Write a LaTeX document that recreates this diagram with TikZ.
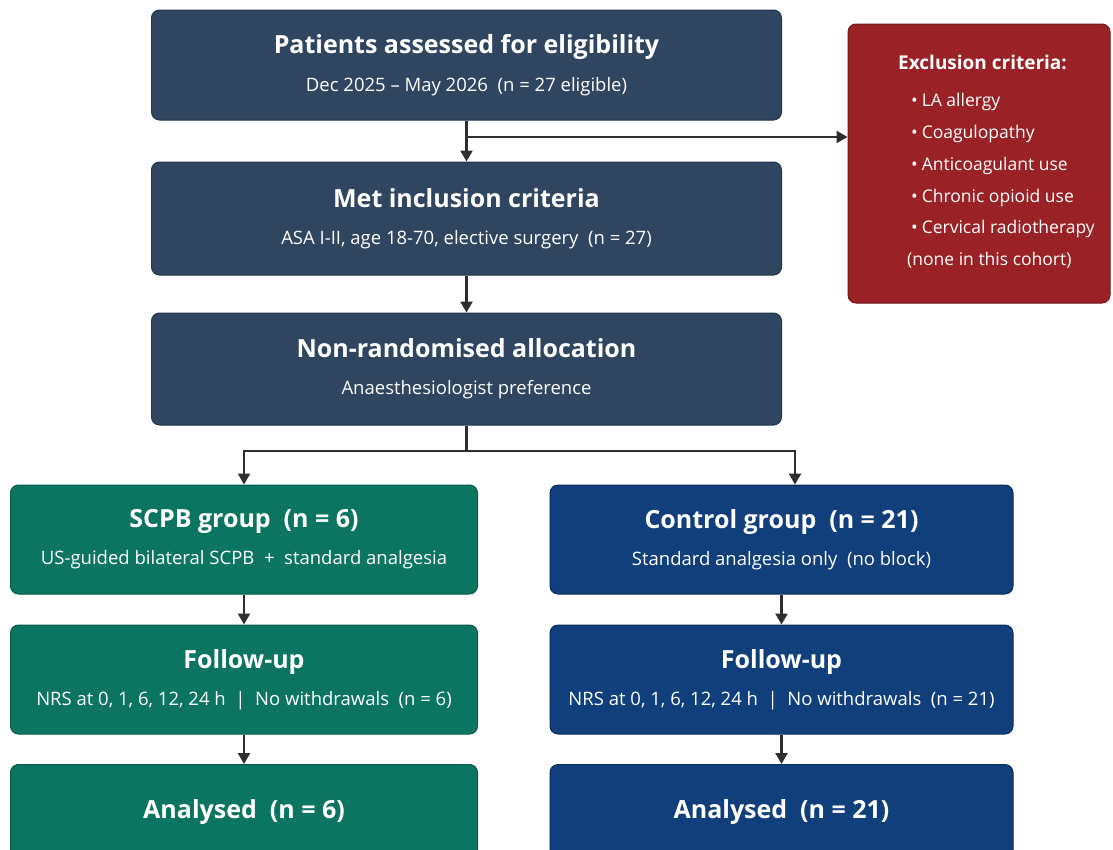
\documentclass[tikz,border=0pt]{standalone}
\usepackage{fontspec}
\setmainfont{Open Sans}
\usetikzlibrary{arrows.meta}
\definecolor{slate}{HTML}{30455F}
\definecolor{slateedge}{HTML}{23364C}
\definecolor{grn}{HTML}{0C7562}
\definecolor{grnedge}{HTML}{08594A}
\definecolor{blu}{HTML}{103F7C}
\definecolor{bluedge}{HTML}{0A2E5E}
\definecolor{redbox}{HTML}{9A2226}
\definecolor{rededge}{HTML}{701519}
\definecolor{arrowc}{HTML}{2E2E2E}
\newcommand{\ttl}[1]{{\fontsize{25}{37}\selectfont\bfseries #1}}
\newcommand{\sbt}[1]{{\fontsize{18.5}{37}\selectfont #1}}
\tikzset{
  box/.style={draw, line width=1pt, rounded corners=8pt, text=white, align=center,
    font=\fontsize{18.5}{37}\selectfont, inner sep=0pt},
  slatebox/.style={box, fill=slate, draw=slateedge, minimum width=630pt},
  grnbox/.style={box, fill=grn, draw=grnedge, minimum width=467pt},
  blubox/.style={box, fill=blu, draw=bluedge, minimum width=463pt},
  conn/.style={draw=arrowc, line width=2.4pt, -{Triangle[length=11pt,width=12pt]}},
  plainline/.style={draw=arrowc, line width=2.4pt},
}
\begin{document}
\begin{tikzpicture}[x=1pt,y=-1pt]
\useasboundingbox (0,0) rectangle (1113,849);
% top column
\node[slatebox, minimum height=110pt] (elig) at (466.5,65) {\ttl{Patients assessed for eligibility}\\[1pt]\sbt{Dec 2025 -- May 2026\ \ (n = 27 eligible)}};
\node[slatebox, minimum height=113pt] (incl) at (466.5,218.5) {\ttl{Met inclusion criteria}\\\sbt{ASA I-II, age 18-70, elective surgery\ \ (n = 27)}};
\node[slatebox, minimum height=112pt] (alloc) at (466.5,369) {\ttl{Non-randomised allocation}\\\sbt{Anaesthesiologist preference}};
% exclusion
\node[box, fill=redbox, draw=rededge, minimum width=262pt, minimum height=279pt] (excl) at (979,163.5) {};
\node[anchor=west, text=white, align=left, inner sep=0pt, font=\fontsize{17.5}{31.8}\selectfont] (excltxt) at (898,162)
 {{\fontsize{19}{31.8}\selectfont\bfseries Exclusion criteria:}\\[5pt]
  \hspace*{13pt}•\hspace*{4pt}LA allergy\\
  \hspace*{13pt}•\hspace*{4pt}Coagulopathy\\
  \hspace*{13pt}•\hspace*{4pt}Anticoagulant use\\
  \hspace*{13pt}•\hspace*{4pt}Chronic opioid use\\
  \hspace*{13pt}•\hspace*{4pt}Cervical radiotherapy\\
  \hspace*{9pt}(none in this cohort)};
% groups
\node[grnbox, minimum height=109pt] (scpb) at (244,539.5) {\ttl{SCPB group\ \ (n = 6)}\\\sbt{US-guided bilateral SCPB\ \ +\ \ standard analgesia}};
\node[blubox, minimum height=109pt] (ctrl) at (781.5,539.5) {\ttl{Control group\ \ (n = 21)}\\\sbt{Standard analgesia only\ \ (no block)}};
\node[grnbox, minimum height=109pt] (fuA) at (244,679.5) {\ttl{Follow-up}\\\sbt{NRS at 0, 1, 6, 12, 24 h\ \ |\ \ No withdrawals\ \ (n = 6)}};
\node[blubox, minimum height=109pt] (fuB) at (781.5,679.5) {\ttl{Follow-up}\\\sbt{NRS at 0, 1, 6, 12, 24 h\ \ |\ \ No withdrawals\ \ (n = 21)}};
\node[grnbox, minimum height=94pt, anchor=north] (anA) at (244,764) {\ttl{Analysed\ \ (n = 6)}};
\node[blubox, minimum height=94pt, anchor=north] (anB) at (781.5,764) {\ttl{Analysed\ \ (n = 21)}};
% connectors
\coordinate (br) at (466.5,137);
\coordinate (sp) at (466.5,451);
\draw[conn] (elig.south) -- (incl.north);
\draw[conn] (br) -- (br -| excl.west);
\draw[conn] (incl.south) -- (alloc.north);
\draw[plainline] (alloc.south) -- (sp);
\draw[conn] (sp) -| (scpb.north);
\draw[conn] (sp) -| ([xshift=13.5pt]ctrl.north);
\draw[conn] (scpb.south) -- (fuA.north);
\draw[conn] (ctrl.south) -- (fuB.north);
\draw[conn] (fuA.south) -- (anA.north);
\draw[conn] (fuB.south) -- (anB.north);
\end{tikzpicture}
\end{document}
